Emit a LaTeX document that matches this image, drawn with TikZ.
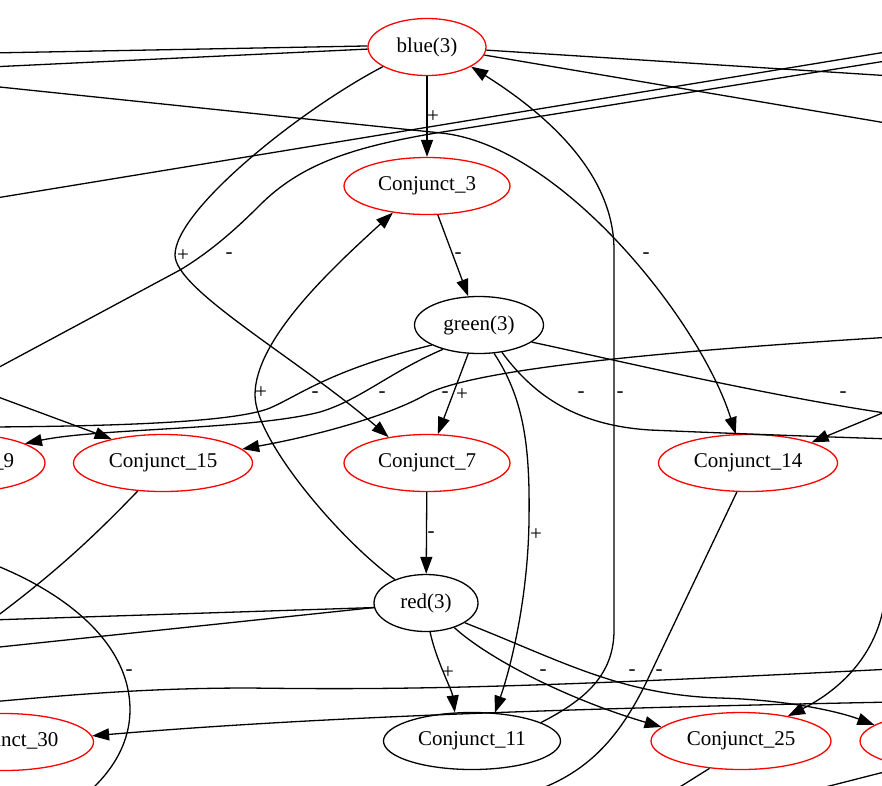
\documentclass[tikz,border=0pt]{standalone}
\usepackage{fontspec}
\setmainfont{Liberation Serif}
\usetikzlibrary{shapes.geometric,arrows.meta}
\begin{document}
\begin{tikzpicture}[x=1pt,y=-1pt,
  every node/.style={font=\fontsize{21}{25}\selectfont},
  gnode/.style={ellipse, draw, line width=1.3pt, inner sep=0pt, minimum height=57pt},
  rnode/.style={gnode, draw=red},
  bnode/.style={gnode, draw=black},
  edge/.style={draw=black, line width=1.3pt, -{Triangle[length=17pt,width=12pt]}},
  plain/.style={draw=black, line width=1.3pt},
  lbl/.style={inner sep=0pt}
]
\useasboundingbox (0,0) rectangle (882,785);
\clip (0,0) rectangle (882,785);
\fill[white] (0,0) rectangle (882,785);

% nodes
\node[rnode, minimum width=118pt] (blue) at (427,47) {blue(3)};
\node[rnode, minimum width=166pt] (c3) at (427,186) {Conjunct\_3};
\node[bnode, minimum width=129pt] (green) at (479,325) {green(3)};
\node[rnode, minimum width=160pt] (c9) at (-35,463) {Conjunct\_9};
\node[rnode, minimum width=179pt] (c15) at (163,463) {Conjunct\_15};
\node[rnode, minimum width=166pt] (c7) at (427,463) {Conjunct\_7};
\node[rnode, minimum width=179pt] (c14) at (748,463) {Conjunct\_14};
\node[bnode, minimum width=104pt] (red) at (426,603) {red(3)};
\node[rnode, minimum width=179pt] (c30) at (4,742) {Conjunct\_30};
\node[bnode, minimum width=177pt] (c11) at (472,741) {Conjunct\_11};
\node[rnode, minimum width=180pt] (c25) at (741,741) {Conjunct\_25};
\node[rnode, minimum width=180pt] (cr) at (950,741) {};

% off-page ends
\coordinate (lF) at (-10,86);
\coordinate (rG) at (892,60);
\coordinate (lG) at (-10,372);
\coordinate (lH) at (-10,199);
\coordinate (rH) at (892,51);
\coordinate (lI) at (-10,53);
\coordinate (lJ) at (-10,67);
\coordinate (rK) at (892,76);
\coordinate (rL) at (892,124);
\coordinate (lM) at (-10,427);
\coordinate (rN) at (892,337);
\coordinate (rO) at (892,439);
\coordinate (rP) at (892,414);
\coordinate (rQ) at (892,409);
\coordinate (lR) at (-10,394);
\coordinate (lS) at (-10,563);
\coordinate (bS) at (85,795);
\coordinate (cl1) at (-15,625);
\coordinate (b1) at (515,797);
\coordinate (cb2) at (667,795);
\coordinate (cb3) at (794,795);
\coordinate (rA) at (886,580);
\coordinate (lB) at (-10,702);
\coordinate (rB) at (892,669);
\coordinate (rC) at (892,702);
\coordinate (lD) at (-10,620);
\coordinate (lE) at (-10,648);

% main vertical chain
\draw[edge] (blue) -- (c3);
\draw[edge] (c3) -- (green);
\draw[edge] (green) -- (c7);
\draw[edge] (c7) -- (red);

% red(3) edges
\draw[edge] (red.-82) .. controls (436,660) and (452,690) .. (c11.121);
\draw[edge] (red.-41) .. controls (490,660) and (570,700) .. (c25.170);
\draw[edge] (red.-27) .. controls (560,660) and (620,695) .. (720,698) .. controls (790,700) and (840,712) .. (cr.168);
\draw[edge] (red.143) .. controls (340,540) and (255,440) .. (255,395) .. controls (255,340) and (330,270) .. (c3.-142);
\draw[plain] (red.185) -- (lD);
\draw[plain] (red.185) -- (lE);

% green(3) edges
\draw[edge] (green.-62) .. controls (525,400) and (530,450) .. (529,520) .. controls (528,600) and (510,670) .. (c11.51);
\draw[plain] (green.-50) .. controls (530,390) and (570,425) .. (650,430) .. controls (720,433) and (800,436) .. (rO);
\draw[plain] (green.-18) .. controls (580,352) and (760,395) .. (rP);
\draw[plain] (green.203) .. controls (330,370) and (300,395) .. (270,408) .. controls (240,420) and (150,426) .. (lM);
\draw[edge] (green.214) .. controls (390,372) and (360,400) .. (320,412) .. controls (250,430) and (100,428) .. (c9.18);

% Conjunct_11 -> blue
\draw[edge] (c11.15) .. controls (585,700) and (614,675) .. (614,630) -- (614,250) .. controls (614,170) and (540,110) .. (blue.-24);

% blue edges
\draw[edge] (blue.204) .. controls (300,110) and (175,210) .. (175,255) .. controls (175,290) and (300,360) .. (c7.146);
\draw[plain] (blue.179) -- (lI);
\draw[plain] (blue.182) -- (lJ);
\draw[plain] (blue.-3) -- (rK);
\draw[plain] (blue.-8) -- (rL);

% long crossing edges
\draw[edge] (lF) -- (441,133) .. controls (560,145) and (700,320) .. (c14.113);
\draw[plain] (rG) -- (430,134) .. controls (350,148) and (300,165) .. (260,205) .. controls (235,230) and (210,252) .. (180,270) -- (lG);
\draw[plain] (lH) -- (rH);
\draw[edge] (rN) .. controls (650,352) and (470,370) .. (425,395) .. controls (390,415) and (320,435) .. (c15.10);
\draw[edge] (rQ) -- (c14.18);
\draw[edge] (lR) -- (c15.155);
\draw[plain] (lS) .. controls (60,590) and (130,640) .. (130,710) .. controls (130,740) and (115,770) .. (bS);
\draw[plain] (c15.-132) .. controls (100,530) and (60,570) .. (cl1);

% lower edges
\draw[plain] (c14.-111) -- (645,685) .. controls (615,745) and (580,780) .. (b1);
\draw[plain] (c25.-139) -- (cb2);
\draw[plain] (cr.-150) -- (cb3);
\draw[edge] (rA) .. controls (886,650) and (840,690) .. (c25.28);
\draw[plain] (lB) .. controls (80,694) and (150,688) .. (250,688) .. controls (400,690) and (520,688) .. (rB);
\draw[edge] (rC) .. controls (650,707) and (350,714) .. (c30.4);

% labels
\node[lbl] (l1) at (433,117) {+};
\node[lbl] (l2) at (458,256) {-};
\node[lbl] (l3) at (431,535) {-};
\node[lbl] (l4) at (462,395) {+};
\node[lbl] (l5) at (448,673) {+};
\node[lbl] (l6) at (536,535) {+};
\node[lbl] (l7) at (620,395) {-};
\node[lbl] (l8) at (543,673) {-};
\node[lbl] (l9) at (632,673) {-};
\node[lbl] (l10) at (659,673) {-};
\node[lbl] (l11) at (261,393) {+};
\node[lbl] (l12) at (183,256) {+};
\node[lbl] (l13) at (646,256) {-};
\node[lbl] (l14) at (229,256) {-};
\node[lbl] (l15) at (315,395) {-};
\node[lbl] (l16) at (382,395) {-};
\node[lbl] (l17) at (445,395) {-};
\node[lbl] (l18) at (581,395) {-};
\node[lbl] (l19) at (843,395) {-};
\node[lbl] (l20) at (129,673) {-};
\end{tikzpicture}
\end{document}
